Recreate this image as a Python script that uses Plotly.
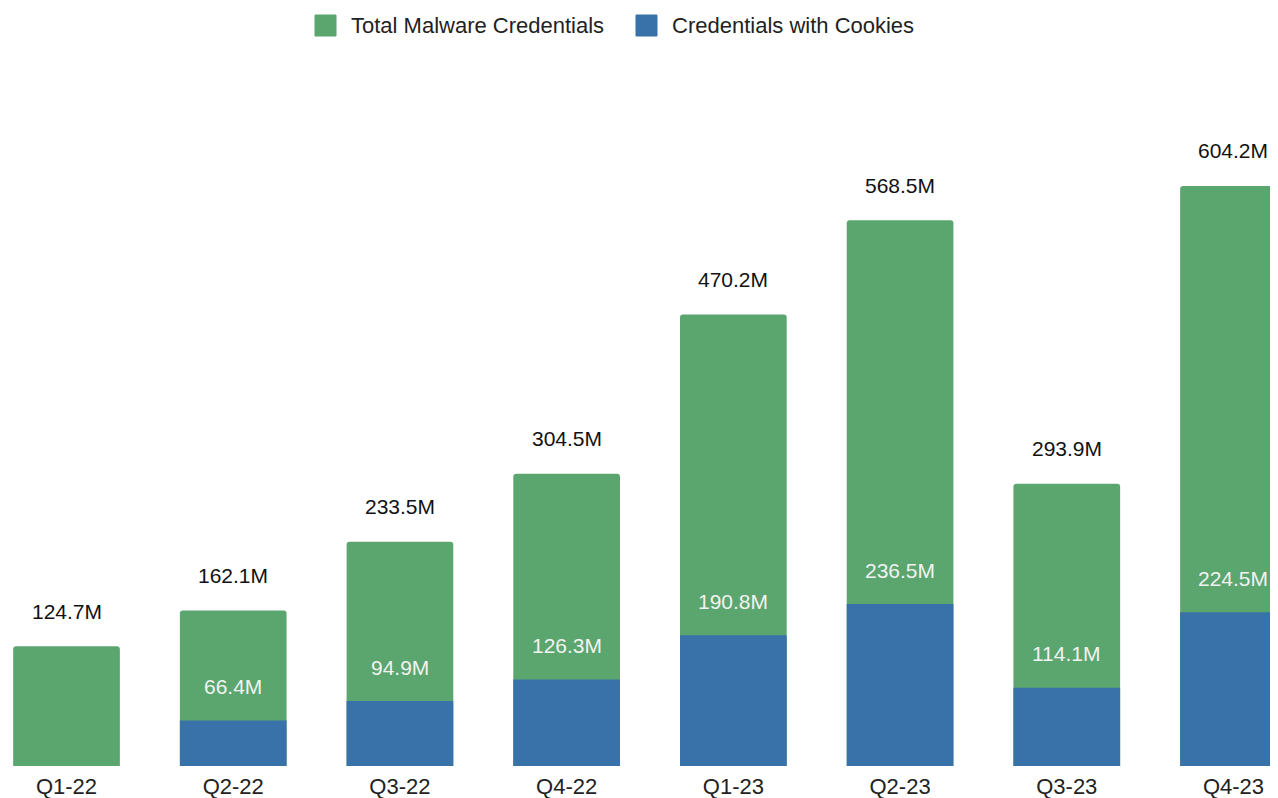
import plotly.graph_objects as go

# data
quarters = ["Q1-22", "Q2-22", "Q3-22", "Q4-22", "Q1-23", "Q2-23", "Q3-23", "Q4-23"]
total_creds = [124.7, 162.1, 233.5, 304.5, 470.2, 568.5, 293.9, 604.2]
cookie_creds = [None, 66.4, 94.9, 126.3, 190.8, 236.5, 114.1, 224.5]
series_names = ["Total Malware Credentials", "Credentials with Cookies"]

GREEN = "#5ba66e"
BLUE = "#3872a9"
FONT = "Liberation Sans, Arial, sans-serif"

W, H = 1270, 790
M_T, M_B = 52, 32
PLOT_H = H - M_T - M_B

fig = go.Figure()

# green totals on y, cookies on an overlaid y2 (the source uses two scales)
fig.add_bar(
    x=quarters, y=total_creds, name=series_names[0],
    marker=dict(color=GREEN, cornerradius=3, line=dict(width=0)),
    width=0.64, showlegend=False, hoverinfo="x+y",
)
fig.add_bar(
    x=quarters, y=cookie_creds, name=series_names[1],
    marker=dict(color=BLUE, line=dict(width=0)),
    width=0.64, yaxis="y2", showlegend=False, hoverinfo="x+y",
)

annotations = []
for q, v in zip(quarters, total_creds):
    annotations.append(dict(
        x=q, y=v, xref="x", yref="y", text=f"{v}M", showarrow=False,
        yshift=35, font=dict(size=21, color="#111111", family=FONT),
    ))
for q, v in zip(quarters, cookie_creds):
    if v is None:
        continue
    annotations.append(dict(
        x=q, y=v, xref="x", yref="y2", text=f"{v}M", showarrow=False,
        yshift=34, font=dict(size=21, color="#f2f2f2", family=FONT),
    ))


# hand-drawn legend: bigger square swatches than plotly's own legend allows
def px_x(p):
    return p / W


def px_y(p):
    return (H - M_B - p) / PLOT_H


shapes = []
legend_items = [(series_names[0], GREEN, 307, 341), (series_names[1], BLUE, 628, 662)]
for name, color, sq_left, text_left in legend_items:
    shapes.append(dict(
        type="rect", xref="paper", yref="paper",
        x0=px_x(sq_left), x1=px_x(sq_left + 21), y0=px_y(28), y1=px_y(7),
        fillcolor=color, line=dict(color=color, width=1),
    ))
    annotations.append(dict(
        x=px_x(text_left), y=px_y(18), xref="paper", yref="paper",
        xanchor="left", yanchor="middle", text=name, showarrow=False,
        font=dict(size=22, color="#222222", family=FONT),
    ))

fig.update_layout(
    width=W, height=H,
    margin=dict(l=0, r=0, t=M_T, b=M_B),
    barmode="overlay",
    plot_bgcolor="white", paper_bgcolor="white",
    font=dict(family=FONT, size=22, color="#222222"),
    showlegend=False,
    annotations=annotations,
    shapes=shapes,
    xaxis=dict(
        range=[-0.351, 7.267], showgrid=False, showline=False, zeroline=False,
        automargin=False, ticks="", tickfont=dict(size=22, color="#222222"),
        ticklabelstandoff=5,
    ),
    yaxis=dict(range=[0, 735.4], visible=False, fixedrange=True),
    yaxis2=dict(range=[0, 1030.7], visible=False, overlaying="y", fixedrange=True),
)

fig.write_html("out.html")
